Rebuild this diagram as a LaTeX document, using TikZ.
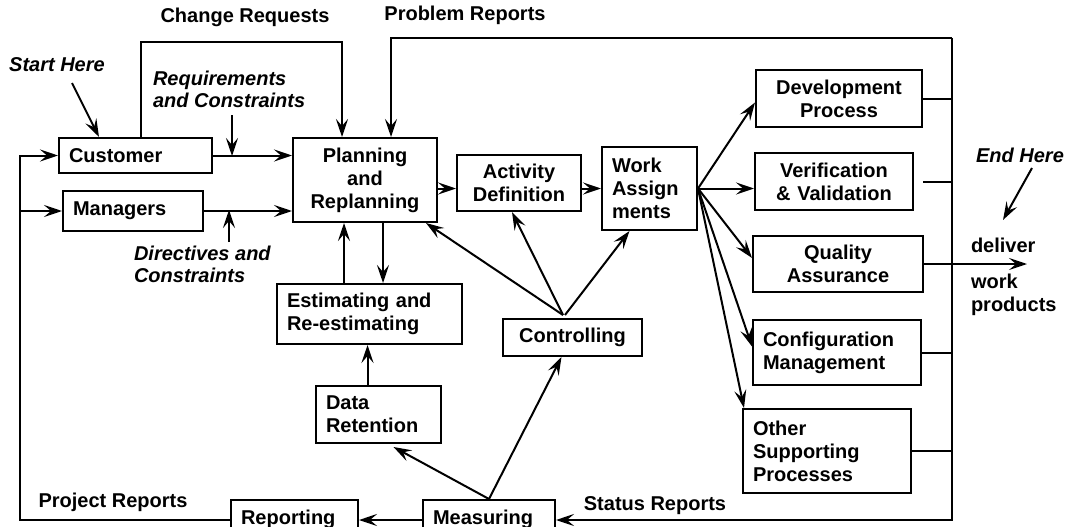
\documentclass[tikz,border=0pt]{standalone}
\usepackage{fontspec}
\setmainfont{Liberation Sans}
\usetikzlibrary{arrows.meta,calc,positioning}

\begin{document}
\begin{tikzpicture}
[
	              x = 1pt, y = -1pt,
	     line width = 2pt,
	             >= {Stealth[length=18pt,width=12pt,inset=7pt]},
	  every node/.style = { font=\bfseries\fontsize{20}{23}\selectfont },
	     box/.style = { draw=black, line width=2pt, inner xsep=10pt, inner ysep=0pt, align=center },
	    lbox/.style = { box, align=left },
	    flow/.style = { inner sep=0pt },
	    hint/.style = { inner sep=0pt, align=left, font=\bfseries\itshape\fontsize{20}{22}\selectfont }
]
	\useasboundingbox (0,0) rectangle (1066,527);
	\clip (0,0) rectangle (1066,527);

	% nodes
	\node (cust) at (135.5,155.5) [lbox, text width=133pt, minimum height=35pt] {Customer};
	\node (mgr)  at (133,211)     [lbox, text width=120pt, minimum height=40pt] {Managers};
	\node (plan) at (365,180)     [box,  text width=124pt, minimum height=84pt] {Planning\\and\\Replanning};
	\node (act)  at (519,183)     [box,  text width=104pt, minimum height=56pt] {Activity\\Definition};
	\node (work) at (649.5,188.5) [lbox, text width=75pt,  minimum height=83pt] {Work\\Assign\\ments};

	\node (dev)  at (839,98.5)    [box,  text width=146pt, minimum height=57pt] {Development\\Process};
	\node (vv)   at (834,181.5)   [box,  text width=138pt, minimum height=57pt] {Verification\\\& Validation};
	\node (qa)   at (838,264)     [box,  text width=150pt, minimum height=56pt] {Quality\\Assurance};
	\node (cm)   at (837,352.5)   [lbox, text width=148pt, minimum height=65pt] {Configuration\\Management};
	\node (osp)  at (827,451)     [lbox, text width=148pt, minimum height=84pt] {Other\\Supporting\\Processes};

	\node (est)  at (369.5,314)   [lbox, text width=165pt, minimum height=60pt] {Estimating and\\Re-estimating};
	\node (dr)   at (378.5,414.5) [lbox, text width=105pt, minimum height=57pt] {Data\\Retention};
	\node (ctl)  at (572.5,337.5) [box,  text width=119pt, minimum height=37pt] {Controlling};
	\node (meas) at (489,519)     [lbox, text width=112pt, minimum height=38pt] {Measuring};
	\node (rep)  at (294.5,519)   [lbox, text width=107pt, minimum height=38pt] {Reporting};

	% labels
	\node (chg)   at (245,17)     [flow] {Change Requests};
	\node (prob)  at (465,15)     [flow] {Problem Reports};
	\node (proj)  at (113,502)    [flow] {Project Reports};
	\node (stat)  at (655,506)    [flow] {Status Reports};
	\node (start) at (57,65)      [hint] {Start Here};
	\node (endh)  at (1020,155)   [hint] {End Here};
	\node (reqc)  at (152,89)     [hint, anchor=west] {Requirements\\and Constraints};
	\node (dirc)  at (133,264)    [hint, anchor=west] {Directives and\\Constraints};
	\node (dlv)   at (970,245)    [flow, anchor=west] {deliver};
	\node (wp)    at (970,294.5)  [flow, anchor=west, align=left] {work\\products};

	% free ends
	\coordinate (bustop) at (952,38);
	\coordinate (busbot) at (952,520);
	\coordinate (crtop)  at (342,42);
	\coordinate (sh)     at (72,83);
	\coordinate (eh)     at (1032,168);
	\coordinate (ehtip)  at (1003,220);
	\coordinate (rq)     at (232,115);
	\coordinate (rqtip)  at (232,156);
	\coordinate (dc)     at (229,242);
	\coordinate (dctip)  at (229,210);
	\coordinate (out)    at (1027,264);
	\coordinate (hub)    at (563,315);

	% edges
	\draw [->] (sh) -- ([xshift=41pt]cust.north west);
	\draw [->] (eh) -- (ehtip);
	\draw [->] (rq) -- (rqtip);
	\draw [->] (dc) -- (dctip);
	\draw [->] (cust) -- (cust -| plan.west);
	\draw [->] (mgr) -- (mgr -| plan.west);
	\draw [->] ([xshift=5pt]cust.north) |- (crtop) -- (crtop |- plan.north);
	\draw [->] (bustop) -| ([xshift=26pt]plan.north);
	\draw [->] ([yshift=-1pt]rep.west) -| ([xshift=-38pt]cust.west) -- (cust.west);
	\draw [->] ([xshift=-38pt]cust.west |- mgr.west) -- (mgr.west);

	\draw [->] (plan.east |- work.west) -- (act.west |- work.west);
	\draw [->] (act.east |- work.west) -- (work.west);
	\draw [->] ([xshift=18pt]plan.south) -- ([xshift=18pt]plan.south |- est.north);
	\draw [->] ([xshift=-21pt]plan.south |- est.north) -- ([xshift=-21pt]plan.south);
	\draw [->] ([xshift=-11pt]dr.north) -- ([xshift=-11pt]dr.north |- est.south);

	\draw [->] (hub) -- ([xshift=-12pt]plan.south east);
	\draw [->] (hub) -- ([xshift=-7pt]act.south);
	\draw [->] ([xshift=2pt]hub) -- ([xshift=-20pt]work.south);
	\draw [->] (meas.north) -- ([xshift=-11pt]ctl.south);
	\draw [->] (meas.north) -- ([xshift=15pt,yshift=-3pt]dr.south);
	\draw [->] ([yshift=-1pt]meas.west) -- ([yshift=-1pt]rep.east);

	\draw [->] (work.east) -- ([yshift=-4pt]dev.west);
	\draw [->] (work.east) -- (work.east -| vv.west);
	\draw [->] (work.east) -- ([yshift=6pt]qa.west);
	\draw [->] (work.east) -- ([yshift=6pt]cm.west);
	\draw [->] (work.east) -- ([xshift=2pt]osp.north west);

	\draw (dev.east) -- (dev.east -| bustop);
	\draw ([xshift=9pt]vv.east) -- (vv.east -| bustop);
	\draw (qa.east) -- (qa.east -| bustop);
	\draw (cm.east) -- (cm.east -| bustop);
	\draw (osp.east) -- (osp.east -| bustop);
	\draw [->] (qa.east -| bustop) -- (out);
	\draw [->] (bustop) -- (busbot) -- (busbot -| meas.east);

\end{tikzpicture}
\end{document}
